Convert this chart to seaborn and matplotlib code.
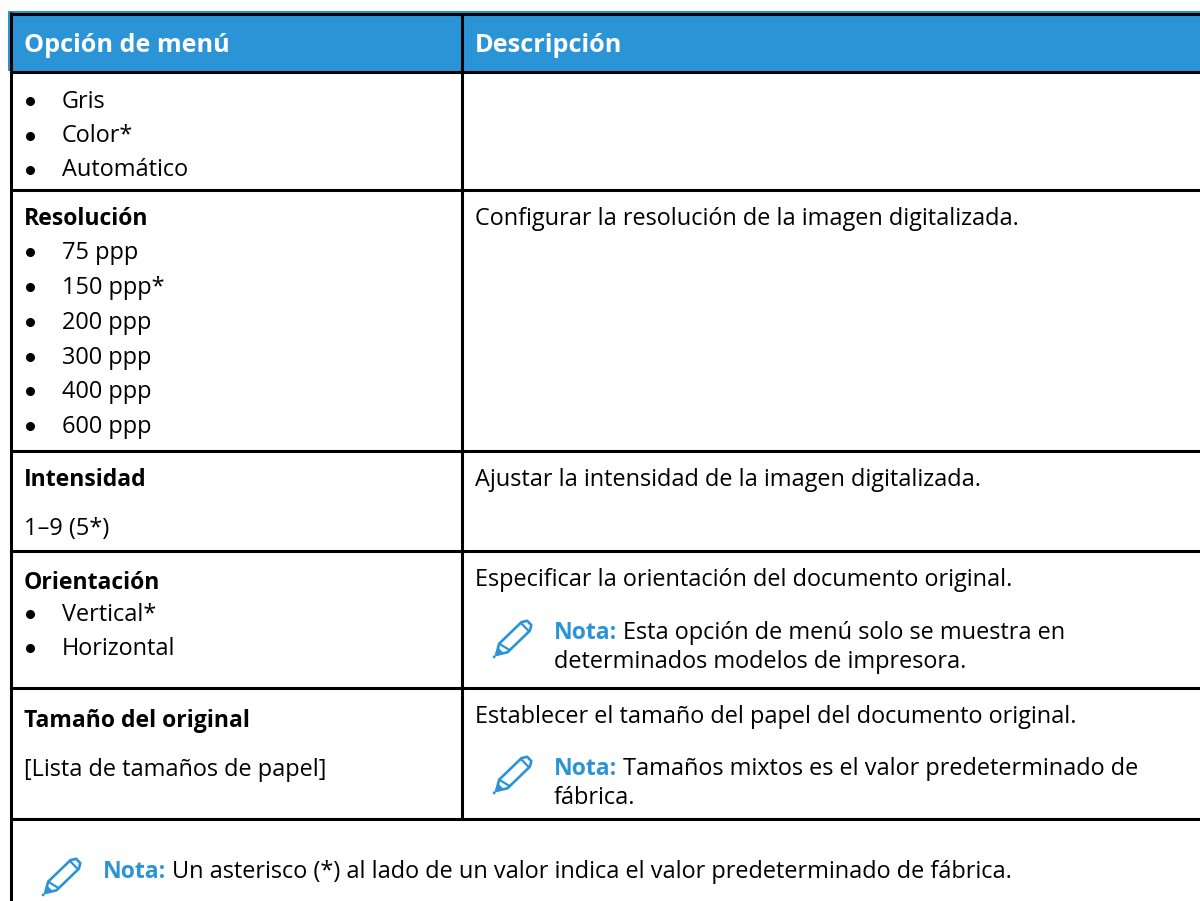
import matplotlib
matplotlib.use('Agg')
import matplotlib.pyplot as plt
import numpy as np
import seaborn as sns
from matplotlib.patches import Polygon, Rectangle

sns.set_theme(style='white')
plt.rcParams['font.family'] = ['Open Sans', 'Noto Sans', 'DejaVu Sans']

BLUE = '#2b94d6'
FS = 16.9
FB = 16.6

headers = ['Opción de menú', 'Descripción']
bold_left = ['Resolución', 'Intensidad', 'Orientación', 'Tamaño del original']
plain_left = ['1–9 (5*)', '[Lista de tamaños de papel]']
bullets = ['Gris', 'Color*', 'Automático', '75 ppp', '150 ppp*', '200 ppp', '300 ppp',
           '400 ppp', '600 ppp', 'Vertical*', 'Horizontal']
right_text = ['Configurar la resolución de la imagen digitalizada.',
              'Ajustar la intensidad de la imagen digitalizada.',
              'Especificar la orientación del documento original.',
              'Establecer el tamaño del papel del documento original.']
note_label = 'Nota:'
note_first = ['Esta opción de menú solo se muestra en',
              'Tamaños mixtos es el valor predeterminado de',
              'Un asterisco (*) al lado de un valor indica el valor predeterminado de fábrica.']
note_second = ['determinados modelos de impresora.', 'fábrica.']

# layout, pixels from the top left
bold_y = [225, 486, 589, 727]
plain_y = [535, 776]
bullet_y = [107.5, 142.5, 176.5, 259, 294, 329, 364, 398, 433, 621, 655]
right_y = [225, 486, 586, 723]
row_lines = [71.5, 189.5, 450.5, 550.5, 687.5, 818.5]


def pencil(ax, x, y):
    # x, y is the tip, icon leans up to the right
    ang = np.deg2rad(-44)
    ux = np.array([np.cos(ang), np.sin(ang)])
    vx = np.array([-ux[1], ux[0]])

    def pts(uv):
        return [(x + u * ux[0] + v * vx[0], y + u * ux[1] + v * vx[1]) for u, v in uv]

    ax.add_patch(Polygon(pts([(3, 0), (13, -6), (44, -6), (49, -3), (49, 3), (44, 6), (13, 6)]),
                         closed=True, fill=False, ec=BLUE, lw=1.9, joinstyle='round'))
    ax.add_patch(Polygon(pts([(3, 0), (9, -3.5), (9, 3.5)]), closed=True, fc=BLUE, ec=BLUE, lw=1))
    ax.plot(*zip(*pts([(13, -6), (16, 6)])), color=BLUE, lw=1.6)
    ax.plot(*zip(*pts([(43, -6), (43, 6)])), color=BLUE, lw=1.6)
    ax.plot(*zip(*pts([(0, 0), (0.5, 0)])), color=BLUE, lw=2)


def note(ax, x, y, txt):
    t = ax.text(x, y, note_label, color=BLUE, fontweight='bold', fontsize=FB, va='baseline')
    fig.canvas.draw()
    bb = t.get_window_extent()
    ax.text(bb.x1 + 6, y, txt, color='black', fontsize=FS, va='baseline')


fig = plt.figure(figsize=(12, 9.01), dpi=100)
ax = fig.add_axes([0, 0, 1, 1])
ax.set_xlim(0, 1200)
ax.set_ylim(901, 0)
ax.axis('off')

ax.add_patch(Rectangle((8, 11), 1192, 60, fc=BLUE, ec='none'))
ax.plot([10.5, 10.5], [12, 901], color='black', lw=2.2, solid_capstyle='butt')
ax.plot([461.5, 461.5], [13, 818], color='black', lw=2.2, solid_capstyle='butt')
ax.plot([10, 1200], [13.5, 13.5], color='black', lw=2.2, solid_capstyle='butt')
for y in row_lines:
    ax.plot([10, 1200], [y, y], color='black', lw=2.2, solid_capstyle='butt')

ax.text(24, 52, headers[0], color='white', fontweight='bold', fontsize=FB + 1.6, va='baseline')
ax.text(475, 52, headers[1], color='white', fontweight='bold', fontsize=FB + 1.6, va='baseline')

for s, y in zip(bold_left, bold_y):
    ax.text(24, y, s, fontweight='bold', color='black', fontsize=FB, va='baseline')
for s, y in zip(plain_left, plain_y):
    ax.text(24, y, s, color='black', fontsize=FS, va='baseline')
for s, y in zip(bullets, bullet_y):
    ax.plot([30], [y - 7], marker='o', ms=6.5, color='black', mec='none')
    ax.text(62, y, s, color='black', fontsize=FS, va='baseline')
for s, y in zip(right_text, right_y):
    ax.text(475, y, s, color='black', fontsize=FS, va='baseline')

note(ax, 554, 639, note_first[0])
ax.text(554, 668, note_second[0], color='black', fontsize=FS, va='baseline')
note(ax, 554, 775, note_first[1])
ax.text(554, 804, note_second[1], color='black', fontsize=FS, va='baseline')
note(ax, 103, 878, note_first[2])

pencil(ax, 494, 657)
pencil(ax, 494, 793)
pencil(ax, 43, 895)

fig.savefig('out.png', dpi=100)
